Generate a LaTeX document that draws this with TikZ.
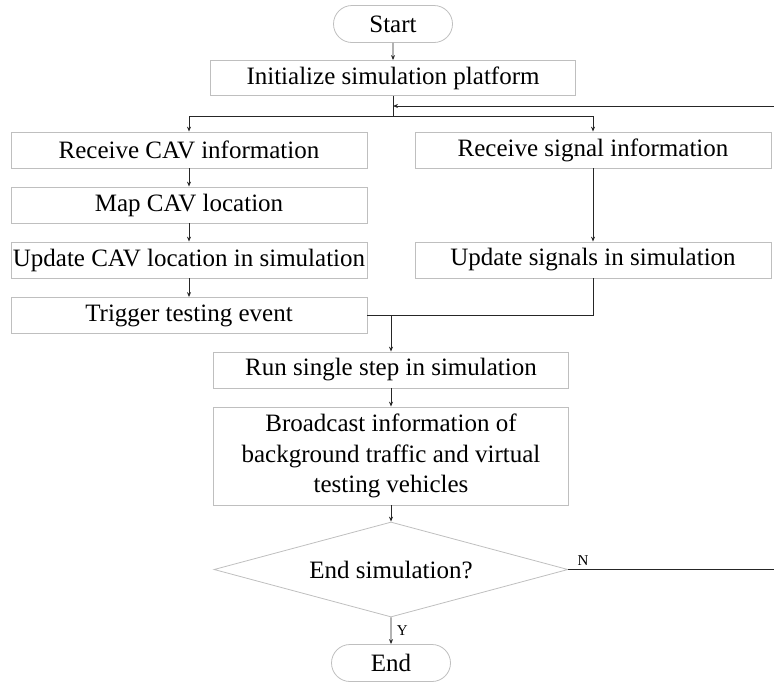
\documentclass[tikz,border=0pt]{standalone}
\usepackage{fontspec}
\setmainfont{Liberation Serif}
\usetikzlibrary{arrows.meta,shapes.geometric,shapes.misc}

\begin{document}
\begin{tikzpicture}[x=1pt,y=-1pt,>={Stealth[length=5pt,width=4pt]},
    font=\fontsize{25}{30.5}\selectfont,
    box/.style={draw=black!25,line width=0.8pt,inner sep=0pt,minimum height=36pt,minimum width=356pt,align=center},
    terminal/.style={draw=black!25,line width=0.8pt,rounded rectangle,inner sep=0pt,minimum width=119pt,minimum height=37pt},
    decision/.style={draw=black!25,line width=0.8pt,diamond,inner sep=0pt,aspect=3.7,minimum width=354pt,minimum height=95pt},
    link/.style={draw=black!85,line width=0.9pt},
    tag/.style={font=\fontsize{15}{18}\selectfont}]
    \useasboundingbox (0,0) rectangle (774,681);
    \node [terminal] (start) at (393,24) {Start};
    \node [box,minimum width=365pt,minimum height=35pt] (init) at (393,78) {Initialize simulation platform};
    \node [box] (recvcav) at (189,150) {Receive CAV information};
    \node [box] (mapcav) at (189,205) {Map CAV location};
    \node [box] (updcav) at (189,260) {Update CAV location in simulation};
    \node [box] (trigger) at (189,315.5) {Trigger testing event};
    \node [box] (recvsig) at (593,150) {Receive signal information};
    \node [box] (updsig) at (593,260) {Update signals in simulation};
    \node [box,minimum width=355pt] (run) at (391,370) {Run single step in simulation};
    \node [box,minimum width=355pt,minimum height=98pt] (bcast) at (391,456) {Broadcast information of\\background traffic and virtual\\testing vehicles};
    \node [decision] (decide) at (391,569.5) {End simulation?};
    \node [terminal] (end) at (391,663) {End};
    \coordinate (split) at (393,116);
    \coordinate (loop) at (393,106);
    \coordinate (merge) at (391,315.5);
    \draw [link,->] (start) -- (init);
    \draw [link] (init) -- (split);
    \draw [link,->] (split) -| (recvcav);
    \draw [link,->] (split) -| (recvsig);
    \draw [link,->] (recvcav) -- (mapcav);
    \draw [link,->] (mapcav) -- (updcav);
    \draw [link,->] (updcav) -- (trigger);
    \draw [link,->] (recvsig) -- (updsig);
    \draw [link] (trigger.east) -| (updsig.south);
    \draw [link,->] (merge) -- (run);
    \draw [link,->] (run) -- (bcast);
    \draw [link,->] (bcast) -- (decide);
    \draw [link,->] (decide) -- node [tag,right,xshift=2pt] {Y} (end);
    \draw [link,->] (decide.east) -- node [tag,pos=0.07,above] {N} (777,569.5) |- (loop);
\end{tikzpicture}
\end{document}
